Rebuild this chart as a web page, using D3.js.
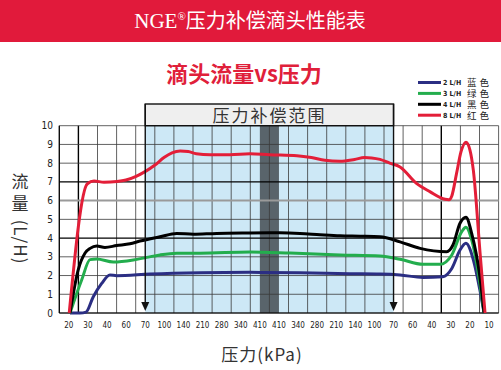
<!DOCTYPE html>
<meta charset="utf-8">
<script src="https://d3js.org/d3.v7.min.js"></script>
<style>
body{margin:0;background:#fff;}
</style>
<body>
<div id="chart"></div>
<script>
// x 轴刻度（压力先升后降）
var xLabels = ["20","30","40","60","70","100","140","210","280","340","410","410","340","280","210","140","100","70","60","40","30","20","10"];
var yTicks = [0,1,2,3,4,5,6,7,8,9,10];
var compRange = [4, 17];   // 压力补偿范围（两个70之间）
var peakRange = [10, 11];  // 410 区
// 每条曲线：[刻度位置, 流量 L/H]
var flow2 = [[0.06,0],[0.58,0],[0.9,0.05],[1.28,0.87],[1.72,1.58],[2.15,2.03],[2.5,1.99],[4.25,2.08],[6.87,2.15],[9.48,2.17],[12.1,2.15],[14.7,2.1],[16.29,2.08],[17.34,2.03],[18.54,1.9],[19.58,1.94],[20.05,2.38],[20.48,3.36],[20.79,3.72],[21.18,2.83],[21.52,1.23],[21.74,0]];
var flow3 = [[0.06,0],[0.67,1.76],[1.11,2.85],[1.46,2.88],[2.33,2.72],[3.37,2.83],[4.08,2.97],[4.77,3.1],[5.65,3.19],[6.87,3.19],[9.48,3.26],[11.58,3.2],[14.2,3.1],[16.29,3.04],[17.34,2.87],[18.54,2.6],[19.43,2.6],[20.05,3.1],[20.57,4.34],[20.79,4.58],[21.09,3.9],[21.52,1.58],[21.74,0]];
var flow4 = [[0.06,0],[0.49,2.3],[0.85,3.2],[1.11,3.45],[1.46,3.58],[1.89,3.5],[2.5,3.6],[3.2,3.7],[3.72,3.84],[4.77,4.07],[5.65,4.25],[6.52,4.2],[7.74,4.25],[9.48,4.27],[11.05,4.28],[12.1,4.25],[13.15,4.18],[14.2,4.12],[15.25,4.1],[16.29,4.07],[17.34,3.8],[18.39,3.45],[19.78,3.27],[20.11,3.63],[20.48,4.79],[20.79,5.11],[21.09,4.25],[21.52,1.94],[21.74,0]];
var flow8 = [[0.02,0],[0.97,6.9],[1.32,7.05],[1.84,6.98],[2.52,7.02],[2.99,7.1],[3.52,7.3],[3.99,7.55],[4.51,7.9],[4.98,8.3],[5.4,8.55],[5.83,8.65],[6.25,8.62],[6.67,8.5],[7.4,8.45],[8.44,8.45],[9.49,8.5],[10.5,8.45],[11.94,8.4],[12.7,8.3],[13.4,8.15],[14.2,8.1],[14.96,8.2],[15.48,8.3],[15.85,8.28],[16.29,8.2],[16.8,8.0],[17.34,7.8],[18.2,6.92],[18.9,6.48],[19.7,6.07],[19.9,6.05],[20.05,6.25],[20.3,7.46],[20.53,8.6],[20.79,9.12],[21.0,8.7],[21.18,7.6],[21.53,3.2],[21.79,0]];
var series = [
  {name:"2 L/H", cn:"蓝色", color:"#2b2e83", data:flow2},
  {name:"3 L/H", cn:"绿色", color:"#23ad4d", data:flow3},
  {name:"4 L/H", cn:"黑色", color:"#000000", data:flow4},
  {name:"8 L/H", cn:"红色", color:"#e31e38", data:flow8}
];

var W = 501, H = 370;
var svg = d3.select("#chart").append("svg").attr("width",W).attr("height",H);

var x = d3.scaleLinear().domain([-0.5, 22.5]).range([59.3, 498.6]);
var y = d3.scaleLinear().domain([0, 10]).range([313, 125.7]);

// 顶部红色横幅
svg.append("rect").attr("x",0).attr("y",0).attr("width",W).attr("height",42).attr("fill","#e11a3b");
var t = svg.append("text").attr("x",250).attr("y",28).attr("text-anchor","middle")
  .attr("fill","#fff").attr("font-size",21).attr("font-family","'Liberation Serif','Noto Sans CJK SC',serif");
t.append("tspan").text("NGE");
t.append("tspan").attr("font-size",11).attr("dy",-8).text("®");
t.append("tspan").attr("dy",8).attr("font-family","'Noto Sans CJK SC'").attr("font-size",20).text("压力补偿滴头性能表");

svg.append("text").attr("x",244).attr("y",82).attr("text-anchor","middle")
  .attr("fill","#e0203a").attr("font-size",22).attr("font-weight","bold")
  .attr("font-family","'Noto Sans CJK SC',sans-serif").text("滴头流量vs压力");

// 图例
var lg = svg.append("g");
series.forEach(function(s,i){
  var ly = 82.5 + i*10.9;
  lg.append("line").attr("x1",418).attr("x2",441).attr("y1",ly).attr("y2",ly).attr("stroke",s.color).attr("stroke-width",3);
  lg.append("text").attr("x",443).attr("y",ly+2.5).attr("font-size",7).attr("font-weight","bold")
    .attr("font-family","'DejaVu Sans Condensed','DejaVu Sans',sans-serif").attr("fill","#222").text(s.name);
  lg.append("text").attr("x",467).attr("y",ly+3.8).attr("font-size",9.5).attr("letter-spacing",3)
    .attr("font-family","'Noto Sans CJK SC',sans-serif").attr("fill","#222").text(s.cn);
});

// 压力补偿区域
svg.append("rect").attr("x",x(compRange[0])).attr("y",y(10)).attr("width",x(compRange[1])-x(compRange[0]))
  .attr("height",y(0)-y(10)).attr("fill","#cde8f6");
svg.append("rect").attr("x",x(peakRange[0])).attr("y",y(10)).attr("width",x(peakRange[1])-x(peakRange[0]))
  .attr("height",y(0)-y(10)).attr("fill","#59646b");

// 网格
var grid = svg.append("g");
d3.range(0,24).forEach(function(k){
  var gx = x(k-0.5);
  var dark = (k==1 || k==20);
  grid.append("line").attr("x1",gx).attr("x2",gx).attr("y1",y(10)).attr("y2",y(0))
    .attr("stroke",dark?"#000":"#3a3a3a").attr("stroke-width",dark?1.4:0.8);
});
yTicks.forEach(function(v){
  var c = "#3a3a3a", w = 0.8;
  if(v==6){c="#9a9a9a"; w=2;}
  if(v==4||v==7){c="#000"; w=1.3;}
  grid.append("line").attr("x1",x(-0.5)).attr("x2",x(22.5)).attr("y1",y(v)).attr("y2",y(v))
    .attr("stroke",c).attr("stroke-width",w);
});
grid.append("line").attr("x1",x(-0.5)).attr("x2",x(-0.5)).attr("y1",y(10)).attr("y2",y(0)).attr("stroke","#000").attr("stroke-width",1.2);
grid.append("line").attr("x1",x(-0.5)).attr("x2",x(22.5)).attr("y1",y(0)).attr("y2",y(0)).attr("stroke","#000").attr("stroke-width",1.2);

// 刻度文字
svg.append("g").selectAll("text").data(yTicks).join("text")
  .attr("x",53).attr("y",function(d){return y(d)+3.5;}).attr("text-anchor","end")
  .attr("font-size",10).attr("font-family","'DejaVu Sans Condensed','DejaVu Sans',sans-serif").attr("fill","#222")
  .text(function(d){return d;});
svg.append("g").selectAll("text").data(xLabels).join("text")
  .attr("x",function(d,i){return x(i);}).attr("y",328).attr("text-anchor","middle")
  .attr("font-size",8).attr("font-family","'DejaVu Sans Condensed','DejaVu Sans',sans-serif").attr("fill","#222")
  .text(function(d){return d;});

// 曲线
var line = d3.line().x(function(d){return x(d[0]);}).y(function(d){return y(d[1]);}).curve(d3.curveMonotoneX);
svg.append("g").selectAll("path").data(series).join("path")
  .attr("d",function(s){return line(s.data);}).attr("fill","none")
  .attr("stroke",function(s){return s.color;}).attr("stroke-width",3).attr("stroke-linejoin","round");

// 范围框与箭头
var bx0 = x(compRange[0]), bx1 = x(compRange[1]);
svg.append("rect").attr("x",bx0).attr("y",104).attr("width",bx1-bx0).attr("height",y(10)-104)
  .attr("fill","#efefef").attr("stroke","#111").attr("stroke-width",1.4);
svg.append("text").attr("x",(bx0+bx1)/2).attr("y",122).attr("text-anchor","middle")
  .attr("font-size",17).attr("letter-spacing",2).attr("fill","#333")
  .attr("font-family","'Noto Sans CJK SC',sans-serif").text("压力补偿范围");
[bx0,bx1].forEach(function(ax){
  svg.append("line").attr("x1",ax).attr("x2",ax).attr("y1",104).attr("y2",303).attr("stroke","#111").attr("stroke-width",1.4);
  svg.append("path").attr("d","M"+(ax-4)+",302 L"+(ax+4)+",302 L"+ax+",311 Z").attr("fill","#111");
});

// 坐标轴标题
svg.append("text").attr("x",262).attr("y",361).attr("text-anchor","middle")
  .attr("font-size",17).attr("letter-spacing",1).attr("fill","#333")
  .attr("font-family","'Noto Sans CJK SC',sans-serif").text("压力(kPa)");
svg.append("text").attr("x",20).attr("y",188).attr("text-anchor","middle").attr("font-size",17).attr("fill","#333")
  .attr("font-family","'Noto Sans CJK SC',sans-serif").text("流");
svg.append("text").attr("x",20).attr("y",210).attr("text-anchor","middle").attr("font-size",17).attr("fill","#333")
  .attr("font-family","'Noto Sans CJK SC',sans-serif").text("量");
svg.append("text").attr("transform","translate(14,242) rotate(90)").attr("text-anchor","middle")
  .attr("font-size",17).attr("letter-spacing",1).attr("fill","#333")
  .attr("font-family","'Noto Sans CJK SC',sans-serif").text("(L/H)");
</script>
</body>
